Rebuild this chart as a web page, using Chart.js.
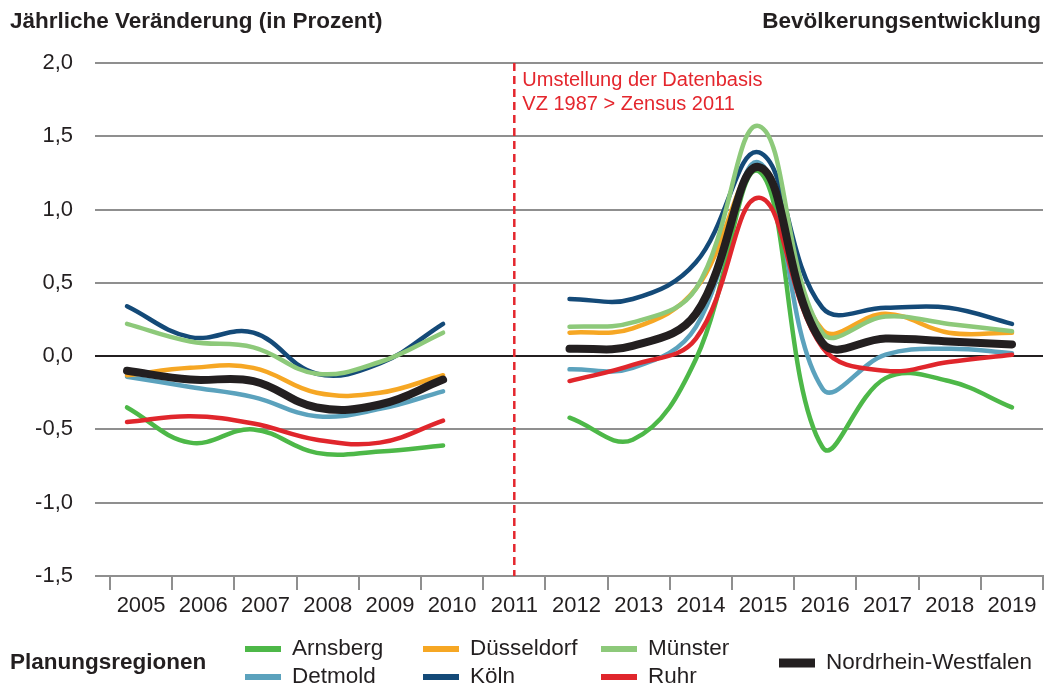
<!DOCTYPE html>
<html lang="de">
<head>
<meta charset="utf-8">
<title>Bevölkerungsentwicklung</title>
<script src="https://cdn.jsdelivr.net/npm/chart.js@4.4.1/dist/chart.umd.min.js"></script>
<style>
  html, body { margin: 0; padding: 0; background: #fff; }
  #wrap { position: relative; width: 1046px; height: 688px; }
</style>
</head>
<body>
<div id="wrap"><canvas id="bevChart"></canvas></div>
<script>
// Jahre und Werte (jährliche Veränderung in Prozent), 2011 ohne Wert
const jahre = [2005, 2006, 2007, 2008, 2009, 2010, 2011, 2012, 2013, 2014, 2015, 2016, 2017, 2018, 2019];
const jahrLabels = jahre.map(String);

const arnsberg    = [-0.35, -0.59, -0.50, -0.66, -0.65, -0.61, null, -0.42, -0.57, -0.02, 1.26, -0.62, -0.15, -0.17, -0.35];
const detmold     = [-0.14, -0.21, -0.28, -0.41, -0.36, -0.24, null, -0.09, -0.08, 0.20, 1.32, -0.22, 0.01, 0.05, 0.02];
const duesseldorf = [-0.13, -0.08, -0.08, -0.25, -0.25, -0.13, null, 0.16, 0.19, 0.46, 1.28, 0.18, 0.29, 0.16, 0.16];
const koeln       = [0.34, 0.13, 0.16, -0.12, -0.05, 0.22, null, 0.39, 0.39, 0.64, 1.39, 0.33, 0.33, 0.33, 0.22];
const muenster    = [0.22, 0.10, 0.06, -0.12, -0.04, 0.16, null, 0.20, 0.23, 0.46, 1.57, 0.16, 0.27, 0.22, 0.17];
const ruhr        = [-0.45, -0.41, -0.46, -0.57, -0.59, -0.44, null, -0.17, -0.06, 0.12, 1.08, 0.06, -0.10, -0.04, 0.01];
const nrw         = [-0.10, -0.16, -0.17, -0.35, -0.33, -0.16, null, 0.05, 0.07, 0.29, 1.29, 0.09, 0.12, 0.10, 0.08];

const schrift = '"Liberation Sans", Arial, Helvetica, sans-serif';
const textFarbe = '#231f20';
const gitterFarbe = '#8f8f8f';
const rot = '#e4262d';

function punkte(werte) {
    return jahre.map((j, i) => ({ x: j, y: werte[i] }));
}

function reihe(label, werte, farbe, breite, ordnung) {
    return {
        label: label,
        data: punkte(werte),
        borderColor: farbe,
        backgroundColor: farbe,
        borderWidth: breite,
        pointRadius: 0,
        tension: 0.4,
        spanGaps: false,
        borderCapStyle: 'round',
        borderJoinStyle: 'round',
        order: ordnung,
        xAxisID: 'x'
    };
}

// Titel, Hinweis zur Datenumstellung und Legende
const beschriftung = {
    id: 'beschriftung',
    afterDraw(chart) {
        const ctx = chart.ctx;
        const area = chart.chartArea;
        ctx.save();

        // gestrichelte Linie bei 2011
        const xKat = chart.scales.x2.getPixelForValue(jahrLabels.indexOf('2011'));
        ctx.strokeStyle = rot;
        ctx.lineWidth = 2.5;
        ctx.setLineDash([8, 5]);
        ctx.beginPath();
        ctx.moveTo(xKat, area.top);
        ctx.lineTo(xKat, area.bottom);
        ctx.stroke();
        ctx.setLineDash([]);

        ctx.fillStyle = rot;
        ctx.font = '20px ' + schrift;
        ctx.textAlign = 'left';
        ctx.textBaseline = 'middle';
        ctx.fillText('Umstellung der Datenbasis', xKat + 8, 80);
        ctx.fillText('VZ 1987 > Zensus 2011', xKat + 8, 104);

        // Überschriften
        ctx.fillStyle = textFarbe;
        ctx.font = 'bold 22.5px ' + schrift;
        ctx.fillText('Jährliche Veränderung (in Prozent)', 10, 22);
        ctx.textAlign = 'right';
        ctx.fillText('Bevölkerungsentwicklung', 1041, 22);

        // Legende
        ctx.textAlign = 'left';
        ctx.fillText('Planungsregionen', 10, 663);

        const spalten = [245, 423, 601];
        const zeilen = [649, 677];
        ctx.font = '22.5px ' + schrift;
        chart.data.datasets.forEach((ds, i) => {
            let x, y, dicke;
            if (i < 6) {
                x = spalten[Math.floor(i / 2)];
                y = zeilen[i % 2];
                dicke = 6;
            } else {
                x = 779;
                y = 663;
                dicke = 9;
            }
            ctx.fillStyle = ds.borderColor;
            ctx.fillRect(x, y - dicke / 2, 36, dicke);
            ctx.fillStyle = textFarbe;
            ctx.fillText(ds.label, x + 47, y);
        });
        ctx.restore();
    }
};

const ctx = document.getElementById('bevChart');
if (ctx) {
    new Chart(ctx.getContext('2d'), {
        type: 'line',
        data: {
            labels: jahrLabels,
            datasets: [
                reihe('Arnsberg', arnsberg, '#4db848', 4.5, 7),
                reihe('Detmold', detmold, '#5ba2bd', 4.5, 6),
                reihe('Düsseldorf', duesseldorf, '#f6a724', 4.5, 5),
                reihe('Köln', koeln, '#144a78', 4.5, 4),
                reihe('Münster', muenster, '#8dc97a', 4.5, 3),
                reihe('Ruhr', ruhr, '#e0262c', 4.5, 2),
                reihe('Nordrhein-Westfalen', nrw, '#231f20', 8, 0)
            ]
        },
        options: {
            responsive: true,
            maintainAspectRatio: false,
            animation: false,
            layout: {
                padding: { top: 63, left: 0, right: 3, bottom: 0 }
            },
            scales: {
                x: {
                    type: 'linear',
                    display: false,
                    min: 2004.731,
                    max: 2019.49
                },
                x2: {
                    type: 'category',
                    position: 'bottom',
                    offset: true,
                    afterFit: function(s) { s.height = 112; },
                    grid: {
                        offset: true,
                        drawOnChartArea: false,
                        drawTicks: true,
                        tickLength: 14,
                        color: gitterFarbe,
                        lineWidth: 2
                    },
                    border: { display: true, color: gitterFarbe, width: 2 },
                    ticks: {
                        color: textFarbe,
                        font: { size: 22, family: schrift },
                        padding: 3,
                        maxRotation: 0,
                        autoSkip: false
                    }
                },
                y: {
                    min: -1.5,
                    max: 2.0,
                    afterFit: function(s) { s.width = 110; },
                    border: { display: false },
                    grid: {
                        color: c => c.tick && c.tick.value === 0 ? '#231f20' : gitterFarbe,
                        lineWidth: 2,
                        drawTicks: true,
                        tickLength: 15
                    },
                    ticks: {
                        stepSize: 0.5,
                        color: textFarbe,
                        font: { size: 22, family: schrift },
                        padding: 22,
                        callback: v => v.toFixed(1).replace('.', ',')
                    }
                }
            },
            plugins: {
                legend: { display: false },
                tooltip: { enabled: false }
            }
        },
        plugins: [beschriftung]
    });
} else {
    console.error('Canvas element with ID "bevChart" not found');
}
</script>
</body>
</html>
